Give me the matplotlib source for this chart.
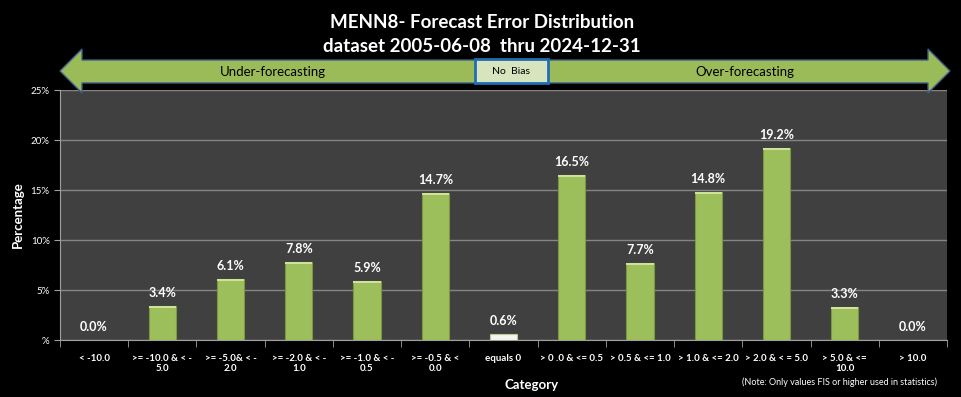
import numpy as np
import matplotlib.pyplot as plt
from matplotlib.patches import Polygon, Rectangle
from matplotlib.ticker import FixedLocator, FuncFormatter

plt.rcParams['font.family'] = ['Lato', 'DejaVu Sans']

categories = ["< -10.0", ">= -10.0 & < -\n5.0", ">= -5.0& < -\n2.0", ">= -2.0 & < -\n1.0",
              ">= -1.0 & < -\n0.5", ">= -0.5 & <\n0.0", "equals 0", "> 0 .0 & <= 0.5",
              "> 0.5 & <= 1.0", "> 1.0 & <= 2.0", "> 2.0 & < = 5.0", "> 5.0 & <=\n10.0", "> 10.0"]
values = [0.0, 3.4, 6.1, 7.8, 5.9, 14.7, 0.6, 16.5, 7.7, 14.8, 19.2, 3.3, 0.0]
yticks = [0, 5, 10, 15, 20, 25]

title1 = "MENN8- Forecast Error Distribution"
title2 = "dataset 2005-06-08  thru 2024-12-31"

W, H = 961, 397
fig = plt.figure(figsize=(W / 100, H / 100), dpi=100, facecolor='black')
ax = fig.add_axes([60 / W, 1 - 340 / H, 887 / W, 250 / H])
ax.set_facecolor('#404040')

x = np.arange(len(values))
bar_colors = ['#9dbf5b'] * len(values)
edge_colors = ['#7a9840'] * len(values)
bar_colors[6] = '#f4f4f0'
edge_colors[6] = '#b8c99a'
bars = ax.bar(x, values, width=0.4, color=bar_colors, edgecolor=edge_colors, linewidth=0.8, zorder=3)
# light top edge highlight on the green bars
for b, c in zip(bars, bar_colors):
    if b.get_height() > 1 and c != '#f4f4f0':
        ax.add_patch(Rectangle((b.get_x(), b.get_height() - 0.18), b.get_width(), 0.18,
                               facecolor='#cfe29a', edgecolor='none', zorder=4))

for xi, v in zip(x, values):
    ax.text(xi, v + 0.7, f"{v:.1f}%", ha='center', va='bottom', color='white',
            fontsize=9, fontweight='bold', zorder=5)

ax.set_xlim(-0.5, len(values) - 0.5)
ax.set_ylim(0, 25)
ax.yaxis.set_major_locator(FixedLocator(yticks))
ax.yaxis.set_major_formatter(FuncFormatter(lambda v, p: "%" if v == 0 else f"{v:.0f}%"))
ax.grid(axis='y', color='#858585', linewidth=1.0, zorder=1)
ax.set_axisbelow(True)

ax.set_xticks(x)
ax.set_xticklabels(categories, fontsize=7, fontweight='bold', color='white')
ax.tick_params(axis='x', length=0, pad=10)
ax.set_xticks(np.arange(-0.5, len(values)), minor=True)
ax.tick_params(axis='x', which='minor', length=5, color='#a0a0a0', direction='out')
ax.tick_params(axis='y', labelsize=7, colors='white', length=4, color='#a0a0a0')
for s in ['top', 'right']:
    ax.spines[s].set_visible(False)
for s in ['left', 'bottom']:
    ax.spines[s].set_color('#a0a0a0')

ax.set_ylabel("Percentage", color='white', fontsize=9.5, fontweight='bold', labelpad=5)
fig.text(505 / W, 1 - 385 / H, "Category", color='white', fontsize=9.5, fontweight='bold',
         ha='left', va='center')
fig.text(937 / W, 1 - 382 / H, "(Note: Only values FIS or higher used in statistics)",
         color='white', fontsize=6.5, ha='right', va='center')

fig.text(482 / W, 1 - 22 / H, title1, color='white', fontsize=13.5, fontweight='bold',
         ha='center', va='center')
fig.text(482 / W, 1 - 46 / H, title2, color='white', fontsize=13.5, fontweight='bold',
         ha='center', va='center')

# overlay in pixel coordinates for the arrow banner
ov = fig.add_axes([0, 0, 1, 1], facecolor='none')
ov.set_xlim(0, W)
ov.set_ylim(H, 0)
ov.axis('off')
arrow = [(60, 71), (82, 49), (82, 60), (928, 60), (928, 49), (950, 71),
         (928, 93), (928, 83), (82, 83), (82, 93)]
ov.add_patch(Polygon(arrow, closed=True, facecolor='#9bbb59', edgecolor='#3b5e8c', linewidth=1.0))
ov.add_patch(Rectangle((475, 59), 73, 24, facecolor='#d7e4bd', edgecolor='#1f6db5', linewidth=2))
ov.text(511, 71, "No  Bias", ha='center', va='center', fontsize=7.5, color='black')
ov.text(273, 72, "Under-forecasting", ha='center', va='center', fontsize=9.5, color='black')
ov.text(745, 72, "Over-forecasting", ha='center', va='center', fontsize=9.5, color='black')

fig.savefig("out.png", dpi=100, facecolor='black')
